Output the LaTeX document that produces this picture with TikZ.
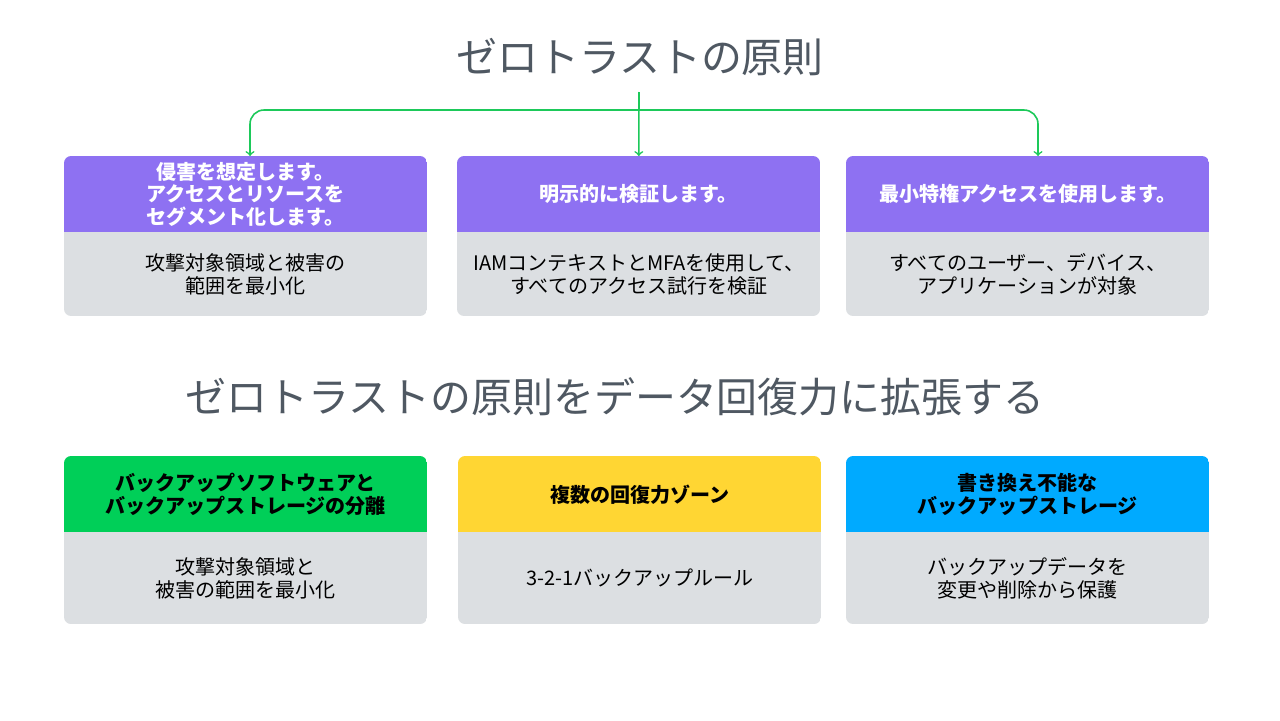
\documentclass[tikz,border=0pt]{standalone}
\usepackage{fontspec}
\setmainfont{Noto Sans CJK JP}
\usetikzlibrary{positioning}
\definecolor{titlegray}{HTML}{4F5862}
\definecolor{bodygray}{HTML}{DCDFE2}
\definecolor{headpurple}{HTML}{8E71F2}
\definecolor{headgreen}{HTML}{00CF58}
\definecolor{headyellow}{HTML}{FFD633}
\definecolor{headblue}{HTML}{00AAFF}
\definecolor{linkgreen}{HTML}{1DC95A}
\tikzset{
  titletext/.style={text=titlegray,font=\fontsize{23.3}{28}\selectfont},
  headbox/.style={minimum width=7.26cm,minimum height=1.52cm,align=center,
    font=\bfseries\fontsize{11.4}{12.8}\selectfont,inner sep=0pt,anchor=north west},
  bodybox/.style={fill=bodygray,minimum width=7.26cm,align=center,
    font=\fontsize{11.4}{13.5}\selectfont,inner sep=0pt,anchor=north west},
  link/.style={linkgreen,line width=0.9pt,->}
}
\begin{document}
\begin{tikzpicture}[x=0.02cm,y=-0.02cm]
  \useasboundingbox (0,0) rectangle (1280,720);
  \fill[white] (0,0) rectangle (1280,720);

  % Titel
  \node[titletext] (top) at (640,57) {ゼロトラストの原則};
  \node[titletext] (bottom) at (615,397) {ゼロトラストの原則をデータ回復力に拡張する};

  % Obere Reihe
  \begin{scope}
    \clip[rounded corners=4pt] (64,156) rectangle (427,316);
    \node[headbox,fill=headpurple,text=white] (h1) at (64,156) {侵害を想定します。\\アクセスとリソースを\\セグメント化します。};
    \node[bodybox,minimum height=1.68cm] (b1) at (64,232) {攻撃対象領域と被害の\\範囲を最小化};
  \end{scope}
  \begin{scope}
    \clip[rounded corners=4pt] (457,156) rectangle (820,316);
    \node[headbox,fill=headpurple,text=white] (h2) at (457,156) {明示的に検証します。};
    \node[bodybox,minimum height=1.68cm] (b2) at (457,232) {IAMコンテキストとMFAを使用して、\\すべてのアクセス試行を検証};
  \end{scope}
  \begin{scope}
    \clip[rounded corners=4pt] (846,156) rectangle (1209,316);
    \node[headbox,fill=headpurple,text=white] (h3) at (846,156) {最小特権アクセスを使用します。};
    \node[bodybox,minimum height=1.68cm] (b3) at (846,232) {すべてのユーザー、デバイス、\\アプリケーションが対象};
  \end{scope}

  % Verbindungen
  \coordinate (fork) at (639,110);
  \draw[link] (639,92) -- (h2.north);
  \draw[link,rounded corners=8pt] (fork) -| (h1.north -| 250,0);
  \draw[link,rounded corners=8pt] (fork) -| (h3.north -| 1038,0);

  % Untere Reihe
  \begin{scope}
    \clip[rounded corners=4pt] (64,456) rectangle (427,624);
    \node[headbox,fill=headgreen] (h4) at (64,456) {バックアップソフトウェアと\\バックアップストレージの分離};
    \node[bodybox,minimum height=1.84cm] (b4) at (64,532) {攻撃対象領域と\\被害の範囲を最小化};
  \end{scope}
  \begin{scope}
    \clip[rounded corners=4pt] (458,456) rectangle (821,624);
    \node[headbox,fill=headyellow] (h5) at (458,456) {複数の回復力ゾーン};
    \node[bodybox,minimum height=1.84cm] (b5) at (458,532) {3-2-1バックアップルール};
  \end{scope}
  \begin{scope}
    \clip[rounded corners=4pt] (846,456) rectangle (1209,624);
    \node[headbox,fill=headblue] (h6) at (846,456) {書き換え不能な\\バックアップストレージ};
    \node[bodybox,minimum height=1.84cm] (b6) at (846,532) {バックアップデータを\\変更や削除から保護};
  \end{scope}
\end{tikzpicture}
\end{document}
